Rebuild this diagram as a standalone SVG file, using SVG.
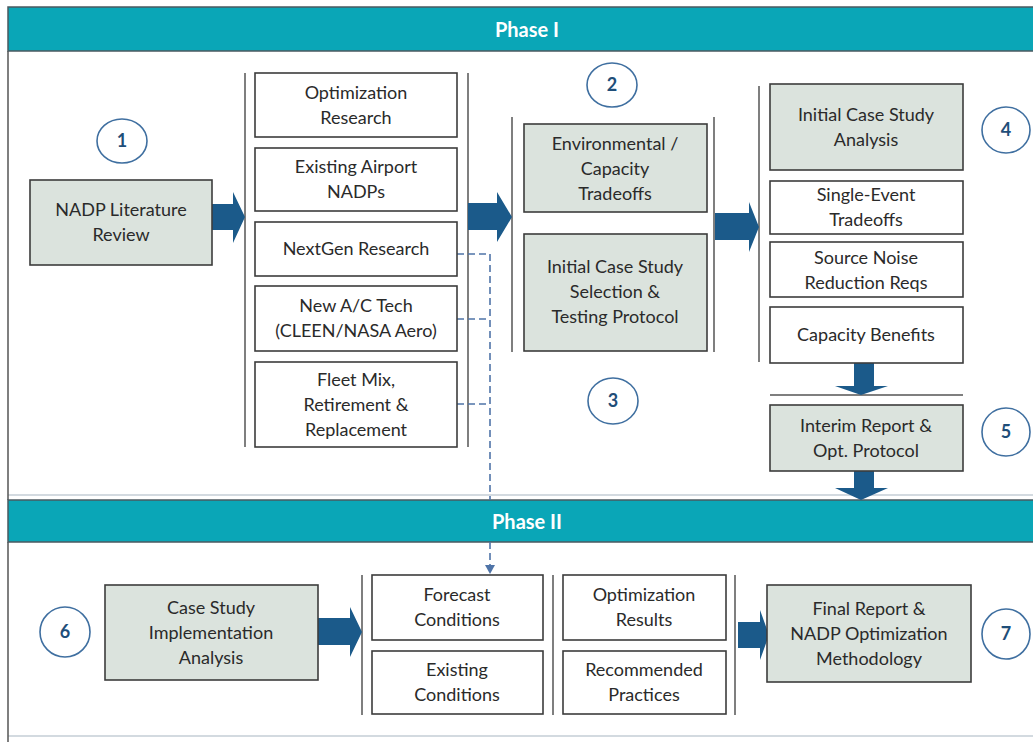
<svg xmlns="http://www.w3.org/2000/svg" width="1033" height="742" viewBox="0 0 1033 742">
<defs>
<style>
.bar{fill:#0aa6b7;stroke:#4b5a60;stroke-width:1.5}
.bt{font-family:Lato,"Liberation Sans",sans-serif;font-weight:bold;font-size:20px;fill:#ffffff;text-anchor:middle}
.frame{stroke:#555;stroke-width:1.5;fill:none}
.faint{stroke:#d3dae0;stroke-width:2;fill:none}
.wb{fill:#ffffff;stroke:#3c3c3c;stroke-width:1.6}
.gb{fill:#dbe3dd;stroke:#3c3c3c;stroke-width:1.6}
.br{stroke:#555;stroke-width:1.5;fill:none}
.t{font-family:Lato,"Liberation Sans",sans-serif;font-size:18px;fill:#2a2a2a;text-anchor:middle}
.c{fill:#ffffff;stroke:#3f6fa0;stroke-width:1.6}
.n{font-family:Lato,"Liberation Sans",sans-serif;font-weight:bold;font-size:18px;fill:#1f4e79;text-anchor:middle}
.arr{fill:#1b5a8a}
.dash{stroke:#4f74a8;stroke-width:1.6;stroke-dasharray:7 4;fill:none}
</style>
</defs>
<rect width="1033" height="742" fill="#ffffff"/>
<!-- panels -->
<g id="phase1">
<path class="faint" d="M8,495 H1033"/>
<path class="frame" d="M8,51 V500"/>
<rect class="bar" x="8" y="7" width="1030" height="44"/>
<text class="bt" x="527" y="37">Phase I</text>
</g>
<g id="phase2">
<path class="faint" d="M8,736 H1033"/>
<path class="frame" d="M8,542 V742"/>
<rect class="bar" x="8" y="500" width="1030" height="42"/>
<text class="bt" x="527" y="529">Phase II</text>
</g>
<!-- brackets -->
<g id="brackets">
<path class="br" d="M245,73 V447 M468,73 V447"/>
<path class="br" d="M512,117 V352 M714,117 V352"/>
<path class="br" d="M759,86 V362"/>
<path class="br" d="M770,395 H963"/>
<path class="br" d="M362,575 V715 M553,575 V715 M735,575 V715"/>
</g>
<!-- connectors -->
<g id="connectors">
<path class="arr" d="M212,204 H233 V192 L245,217 L233,243 V230 H212 Z"/>
<path class="arr" d="M468,203 H497 V192 L512,217 L497,242 V230 H468 Z"/>
<path class="arr" d="M715,213 H749 V202 L759,227 L749,252 V240 H715 Z"/>
<path class="arr" d="M854,363 H874 V386 H888 L861,395 L835,386 H854 Z"/>
<path class="arr" d="M854,471 H874 V488 H888 L861,500 L835,488 H854 Z"/>
<path class="arr" d="M318,618 H350 V607 L362,632 L350,657 V645 H318 Z"/>
<path class="arr" d="M738,622 H760 V610 L769,635 L760,660 V648 H738 Z"/>
<path class="dash" d="M457,254 H490 M457,319 H490 M457,404 H490 M490,254 V500"/>
<path class="dash" d="M490,542 V566"/>
<path fill="#4f74a8" d="M485,565 H495 L490,574 Z"/>
</g>
<!-- nodes -->
<g id="n1"><rect class="gb" x="30" y="180" width="182" height="85"/><text class="t" x="121" y="216">NADP Literature</text><text class="t" x="121" y="241">Review</text></g>
<g id="c1"><ellipse class="c" cx="122" cy="141" rx="25" ry="22"/><text class="n" x="122" y="147">1</text></g>
<g id="opt-research"><rect class="wb" x="255" y="73" width="202" height="64"/><text class="t" x="356" y="99">Optimization</text><text class="t" x="356" y="124">Research</text></g>
<g id="existing-nadps"><rect class="wb" x="255" y="148" width="202" height="63"/><text class="t" x="356" y="173">Existing Airport</text><text class="t" x="356" y="198">NADPs</text></g>
<g id="nextgen"><rect class="wb" x="255" y="222" width="202" height="54"/><text class="t" x="356" y="255">NextGen Research</text></g>
<g id="newac"><rect class="wb" x="255" y="286" width="202" height="65"/><text class="t" x="356" y="312">New A/C Tech</text><text class="t" x="356" y="337">(CLEEN/NASA Aero)</text></g>
<g id="fleet"><rect class="wb" x="255" y="362" width="202" height="85"/><text class="t" x="356" y="386">Fleet Mix,</text><text class="t" x="356" y="411">Retirement &amp;</text><text class="t" x="356" y="436">Replacement</text></g>
<g id="c2"><ellipse class="c" cx="612" cy="85" rx="25" ry="22"/><text class="n" x="612" y="91">2</text></g>
<g id="env"><rect class="gb" x="524" y="124" width="183" height="88"/><text class="t" x="615" y="150">Environmental /</text><text class="t" x="615" y="175">Capacity</text><text class="t" x="615" y="200">Tradeoffs</text></g>
<g id="selection"><rect class="gb" x="524" y="234" width="183" height="117"/><text class="t" x="615" y="273">Initial Case Study</text><text class="t" x="615" y="298">Selection &amp;</text><text class="t" x="615" y="323">Testing Protocol</text></g>
<g id="c3"><ellipse class="c" cx="613" cy="401" rx="25" ry="23"/><text class="n" x="613" y="407">3</text></g>
<g id="analysis"><rect class="gb" x="770" y="84" width="193" height="86"/><text class="t" x="866" y="121">Initial Case Study</text><text class="t" x="866" y="146">Analysis</text></g>
<g id="c4"><ellipse class="c" cx="1006" cy="130" rx="24" ry="23"/><text class="n" x="1006" y="136">4</text></g>
<g id="single"><rect class="wb" x="770" y="181" width="193" height="53"/><text class="t" x="866" y="201">Single-Event</text><text class="t" x="866" y="226">Tradeoffs</text></g>
<g id="source"><rect class="wb" x="770" y="242" width="193" height="55"/><text class="t" x="866" y="264">Source Noise</text><text class="t" x="866" y="289">Reduction Reqs</text></g>
<g id="capacity"><rect class="wb" x="770" y="307" width="193" height="56"/><text class="t" x="866" y="341">Capacity Benefits</text></g>
<g id="interim"><rect class="gb" x="770" y="405" width="193" height="66"/><text class="t" x="866" y="432">Interim Report &amp;</text><text class="t" x="866" y="457">Opt. Protocol</text></g>
<g id="c5"><ellipse class="c" cx="1006" cy="432" rx="24" ry="24"/><text class="n" x="1006" y="438">5</text></g>
<g id="c6"><ellipse class="c" cx="65" cy="632" rx="25" ry="25"/><text class="n" x="65" y="638">6</text></g>
<g id="implementation"><rect class="gb" x="105" y="585" width="213" height="95"/><text class="t" x="211" y="614">Case Study</text><text class="t" x="211" y="639">Implementation</text><text class="t" x="211" y="664">Analysis</text></g>
<g id="forecast"><rect class="wb" x="372" y="575" width="171" height="65"/><text class="t" x="457" y="601">Forecast</text><text class="t" x="457" y="626">Conditions</text></g>
<g id="existing"><rect class="wb" x="372" y="651" width="171" height="63"/><text class="t" x="457" y="676">Existing</text><text class="t" x="457" y="701">Conditions</text></g>
<g id="results"><rect class="wb" x="563" y="575" width="163" height="65"/><text class="t" x="644" y="601">Optimization</text><text class="t" x="644" y="626">Results</text></g>
<g id="practices"><rect class="wb" x="563" y="651" width="163" height="63"/><text class="t" x="644" y="676">Recommended</text><text class="t" x="644" y="701">Practices</text></g>
<g id="final"><rect class="gb" x="767" y="585" width="204" height="97"/><text class="t" x="869" y="615">Final Report &amp;</text><text class="t" x="869" y="640">NADP Optimization</text><text class="t" x="869" y="665">Methodology</text></g>
<g id="c7"><ellipse class="c" cx="1006" cy="634" rx="24" ry="25"/><text class="n" x="1006" y="640">7</text></g>
</svg>
